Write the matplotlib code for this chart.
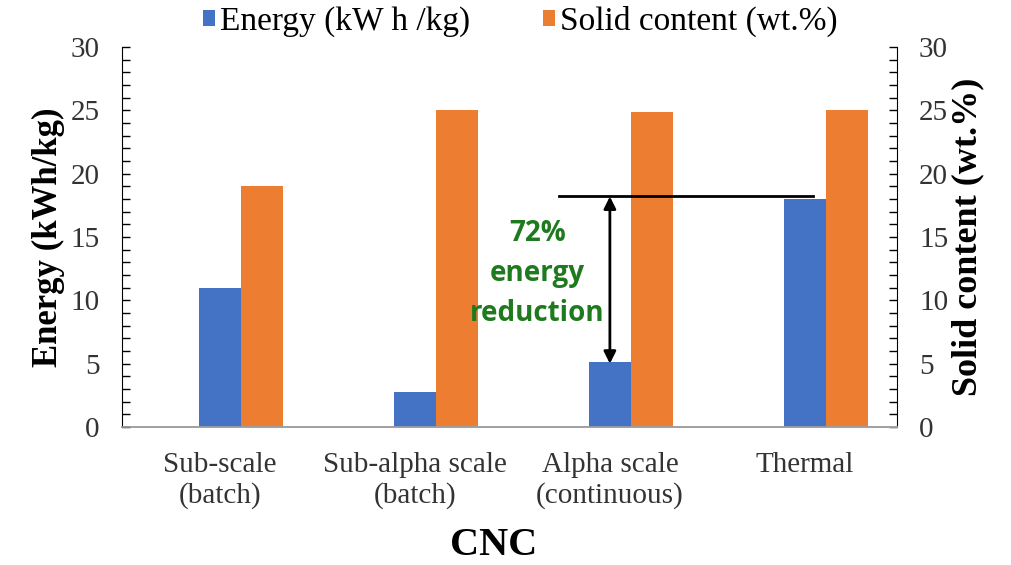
import numpy as np
import matplotlib.pyplot as plt
from matplotlib.ticker import MultipleLocator

categories = ["Sub-scale\n(batch)", "Sub-alpha scale\n(batch)", "Alpha scale\n(continuous)", "Thermal"]
energy = [11.0, 2.8, 5.1, 18.0]
solid = [19.0, 25.0, 24.9, 25.0]

blue = "#4472C4"
orange = "#ED7D31"
green = "#1f7a1f"
serif = "Liberation Serif"

fig = plt.figure(figsize=(10.12, 5.65), dpi=100)
ax1 = fig.add_axes([0.1206, 0.2442, 0.7655, 0.6726])
ax2 = ax1.twinx()

x = np.arange(len(categories))
w = 0.215
ax1.bar(x, energy, w, color=blue, label="Energy (kW h /kg)")
ax2.bar(x + w, solid, w, color=orange, label="Solid content (wt.%)")

ax1.set_xlim(-0.5, 3.47)
ax1.set_ylim(0, 30)
ax2.set_ylim(0, 30)
for ax in (ax1, ax2):
    ax.yaxis.set_major_locator(MultipleLocator(5))
    ax.yaxis.set_minor_locator(MultipleLocator(1))
    ax.spines["top"].set_visible(False)
    ax.spines["bottom"].set_color("#a0a0a0")
    ax.spines["bottom"].set_linewidth(1.2)
ax1.spines["right"].set_visible(False)
ax2.spines["left"].set_visible(False)

ax1.tick_params(axis="y", which="both", direction="in", length=6, width=1, pad=16,
                labelsize=21)
ax2.tick_params(axis="y", which="both", direction="in", length=6, width=1, pad=16,
                labelsize=21)
for lab in ax1.get_yticklabels() + ax2.get_yticklabels():
    lab.set_fontfamily(serif)
    lab.set_color("#333333")

ax1.set_xticks(x)
ax1.set_xticklabels(categories, fontfamily=serif, fontsize=21, color="#333333",
                    linespacing=1.2)
ax1.tick_params(axis="x", length=0, pad=18)

ax1.set_ylabel("Energy (kWh/kg)", fontfamily=serif, fontweight="bold", fontsize=25, labelpad=4)
ax2.set_ylabel("Solid content (wt.%)", fontfamily=serif, fontweight="bold", fontsize=26,
               labelpad=2)
fig.text(0.488, 0.035, "CNC", ha="center", va="center", fontfamily=serif,
         fontweight="bold", fontsize=29)

# annotation: reference line at thermal energy and double arrow to alpha scale
ref = energy[3]
ax1.plot([1.74, 3.04], [ref + 0.2, ref + 0.2], color="black", lw=2)
ax1.annotate("", xy=(2.0, energy[2] - 0.1), xytext=(2.0, ref + 0.2),
             arrowprops=dict(arrowstyle="<|-|>", color="black", lw=2, mutation_scale=18,
                             shrinkA=0, shrinkB=0))
pct = round((1 - energy[2] / ref) * 100)
ax1.text(1.63, 12.1, f"{pct}%\nenergy\nreduction", ha="center", va="center", color=green,
         fontfamily="Open Sans", fontweight="bold", fontsize=20, linespacing=1.5)
ax1.set_zorder(ax2.get_zorder() + 1)
ax1.patch.set_visible(False)

h1, l1 = ax1.get_legend_handles_labels()
h2, l2 = ax2.get_legend_handles_labels()
fig.legend(h1 + h2, l1 + l2, loc="center", bbox_to_anchor=(0.514, 0.962), ncol=2,
           frameon=False, prop={"family": serif, "size": 24}, handlelength=0.35,
           handleheight=0.35, handletextpad=0.15, columnspacing=2.2)

fig.savefig("out.png", dpi=100)
